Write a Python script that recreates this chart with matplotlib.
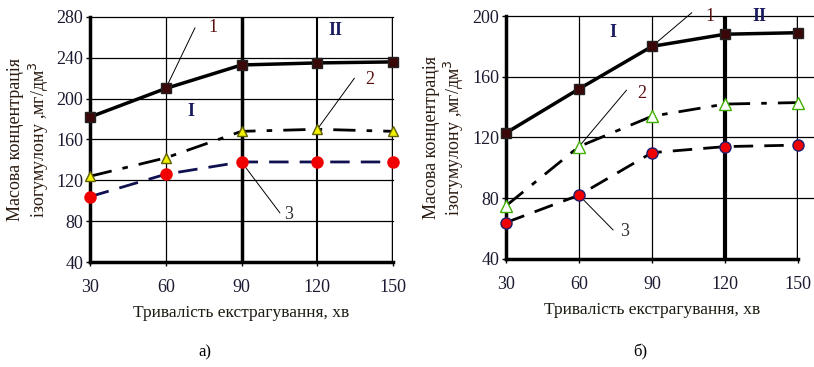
import matplotlib.pyplot as plt

plt.rcParams['font.family'] = ['Liberation Serif', 'DejaVu Serif']

t = [30, 60, 90, 120, 150]

# panel а)
a_s1 = [182, 210, 233, 235, 236]
a_s2 = [124, 142, 168, 170, 168]
a_s3 = [104, 126, 138, 138, 138]

# panel б)
b_s1 = [123, 152, 180, 188, 189]
b_s2 = [75, 114, 134, 142, 143]
b_s3 = [64, 82, 110, 114, 115]

ylab = "Масова концентрація\nізогумулону ,мг/дм$^3$"
xlab = "Тривалість екстрагування, хв"

fig = plt.figure(figsize=(8.14, 3.67), dpi=100)
ax1 = fig.add_axes([0.1106, 0.2861, 0.3722, 0.6676])
ax2 = fig.add_axes([0.6216, 0.2943, 0.3587, 0.6621])


def setup(ax, yticks, thick, hx):
    ax.set_xlim(30, 150)
    ax.set_ylim(yticks[0], yticks[-1])
    ax.set_xticks(t)
    ax.set_yticks(yticks)
    ax.tick_params(labelsize=13, length=3, width=1, labelcolor='#1a1a30')
    ax.tick_params(axis='x', pad=9)
    ax.tick_params(axis='y', pad=2)
    for s in ['top', 'right']:
        ax.spines[s].set_visible(False)
    ax.spines['left'].set_linewidth(2.5)
    ax.spines['bottom'].set_linewidth(2.5)
    for y in yticks[1:]:
        ax.axhline(y, xmax=hx, color='black', lw=0.9, zorder=1, clip_on=False)
    for x in t[1:]:
        ax.axvline(x, color='black', lw=thick.get(x, 0.9), zorder=1)
    ax.set_xlabel(xlab, fontsize=12.5, labelpad=7, color='#1a1a10')
    ax.set_ylabel(ylab, fontsize=13, color='#2a1a10', labelpad=4, linespacing=1.15)


setup(ax1, [40, 80, 120, 160, 200, 240, 280], {90: 2.5, 120: 1.5, 150: 2.5}, 1.0)
setup(ax2, [40, 80, 120, 160, 200], {120: 3.0, 150: 2.5}, 1.055)

# left panel
ax1.plot(t, a_s1, color='black', lw=2.5, marker='s', ms=7, mfc='#3a0808', mec='#222222', zorder=4, clip_on=False)
ax1.plot(t, a_s2, color='black', lw=2, ls=(0, (8, 4, 2, 4)), marker='^', ms=7, mfc='#f0f000', mec='#606000', zorder=4, clip_on=False)
ax1.plot(t, a_s3, color='#101050', lw=2, ls=(0, (7, 4)), marker='o', ms=8, mfc='#f00000', mec='#f00000', zorder=4, clip_on=False)

ax1.annotate('1', xy=(60, 210), xytext=(77, 265), fontsize=13, color='#5a1010',
             arrowprops=dict(arrowstyle='-', lw=0.7, color='black', shrinkA=0, shrinkB=0,
                             relpos=(-1.5, 0.5)))
ax1.annotate('2', xy=(120, 170), xytext=(139, 214), fontsize=13, color='#5a1010',
             arrowprops=dict(arrowstyle='-', lw=0.7, color='black', shrinkA=0, shrinkB=0,
                             relpos=(-1.2, 0.6)))
ax1.annotate('3', xy=(90, 138), xytext=(107, 82), fontsize=13, color='#303030',
             arrowprops=dict(arrowstyle='-', lw=0.7, color='black', shrinkA=0, shrinkB=0,
                             relpos=(-0.5, 0.6)))
ax1.text(70, 187, 'I', fontsize=13, fontweight='bold', color='#1a1a60', ha='center', va='center')
ax1.text(127, 267, 'II', fontsize=13, fontweight='bold', color='#1a1a60', ha='center', va='center')

# right panel
ax2.plot(t, b_s1, color='black', lw=2.5, marker='s', ms=7, mfc='#3a0808', mec='#222222', zorder=4, clip_on=False)
ax2.plot(t, b_s2, color='black', lw=2, ls=(0, (8, 4, 2, 4)), marker='^', ms=8, mfc='white', mec='#40b000', zorder=4, clip_on=False)
ax2.plot(t, b_s3, color='black', lw=2, ls=(0, (7, 4)), marker='o', ms=8, mfc='#f00000', mec='#202070', zorder=4, clip_on=False)

ax2.annotate('1', xy=(90, 180), xytext=(112, 197), fontsize=13, color='#5a1010',
             arrowprops=dict(arrowstyle='-', lw=0.7, color='black', shrinkA=0, shrinkB=0,
                             relpos=(-1.5, 0.7)))
ax2.annotate('2', xy=(60, 114), xytext=(84, 146), fontsize=13, color='#5a1010',
             arrowprops=dict(arrowstyle='-', lw=0.7, color='black', shrinkA=0, shrinkB=0,
                             relpos=(-1.2, 0.7)))
ax2.annotate('3', xy=(60, 82), xytext=(77, 55), fontsize=13, color='#303030',
             arrowprops=dict(arrowstyle='-', lw=0.7, color='black', shrinkA=0, shrinkB=0,
                             relpos=(-0.8, 0.6)))
ax2.text(74, 189, 'I', fontsize=13, fontweight='bold', color='#1a1a60', ha='center', va='center')
ax2.text(134, 200, 'II', fontsize=13, fontweight='bold', color='#1a1a60', ha='center', va='center')

fig.text(205 / 814, 1 - 352 / 367, 'а)', fontsize=12, ha='center', va='center')
fig.text(640 / 814, 1 - 352 / 367, 'б)', fontsize=12, ha='center', va='center')

fig.savefig('out.png', dpi=100)
